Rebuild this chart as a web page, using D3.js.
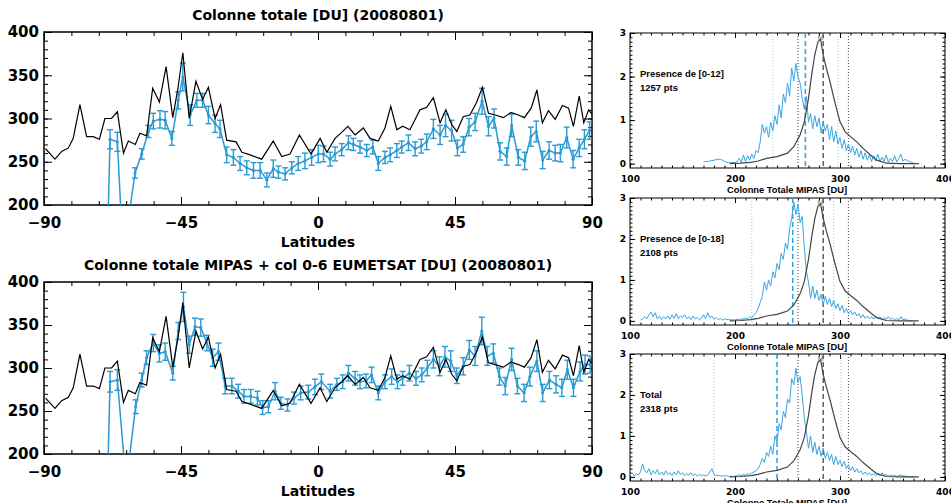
<!DOCTYPE html>
<html>
<head>
<meta charset="utf-8">
<script src="https://cdn.jsdelivr.net/npm/d3@7"></script>
<style>
  body { margin: 0; background: #fff; overflow: hidden; }
  svg { display: block; }
</style>
</head>
<body>
<div id="chart"></div>
<script>
// ---- latitude panels: MIPAS column (black) ----
var mipasLat = [-89.5,-86.4,-84.2,-82,-80.4,-78.2,-76,-73.8,-71.8,-70,-67.8,-65.9,-63.9,-62.3,-60,-58.5,-56.3,-54.3,-52.1,-49.9,
  -47.7,-46,-44.4,-42.3,-40.1,-37.9,-36,-33.8,-32,-30,-26.9,-25,-22.3,-18.5,-14.7,-11.9,-9.2,-6.1,-2.3,0.7,
  2.9,5.6,7.8,9.8,12.2,14.9,17.1,19.8,22,23.9,25.9,27.8,30.2,33.5,35.7,37.9,40.1,42,43.9,45.6,
  47.7,49.9,52,54,56,58.2,60.9,63.4,65.8,67.8,70,71.9,73.7,75.7,77.9,80.3,82.3,83.9,85.8,87.3,88.9,90];
var mipasCol = [265,253,262,266,277,316,279,279,276,300,300,308,260,274,270,283,280,335,319,360,
  301,335,376,300,343,322,336,300,316,275,273,261,258,253,274,256,259,281,259,277,
  261,277,284,291,281,289,277,274,289,314,287,291,287,310,313,324,295,310,293,285,
  302,304,318,336,306,304,301,307,304,301,312,333,295,309,299,315,312,291,326,295,310,305];

// ---- top panel: total column (blue) ----
var topLat = [-70.3,-68.3,-65.9,-64,-60.1,-57.9,-55.7,-54.1,-51.9,-50.2,-48,-45.9,-44.4,-42,-39.8,-37.9,-36,-33.8,-32.2,-30,
  -27.8,-25.6,-23.4,-21.2,-19,-16.8,-14.7,-13,-10.8,-8.6,-6.5,-4.3,-2.1,0.1,1.8,4,5.6,7.8,10,11.6,
  13.8,16,18,19.8,22,23.7,25.9,27.5,29.7,31.9,33.9,35.7,37.9,40.1,41.9,43.9,45.8,47.7,49.6,51.6,
  53.9,56,57.8,59.8,62,63.6,65.8,67.9,69.9,71.7,73.8,75.9,77.9,79.6,81.7,83.8,85.8,87.5,89.2];
var topCol = [0,276,273,140,237,259,285,297,299,298,277,321,348,304,321,321,304,294,288,258,
  255,248,243,240,240,229,242,238,236,243,248,251,255,259,259,253,259,264,272,270,
  267,263,267,248,255,258,263,267,272,265,268,273,288,281,292,286,266,270,290,296,
  320,291,300,262,256,292,255,251,279,285,252,263,260,260,278,253,266,276,286];
var topErr = [10,11,11,10,6,6,7,9,10,10,8,10,16,12,8,8,10,10,10,9,
  9,8,8,9,9,8,10,7,7,7,8,9,9,10,9,8,8,7,8,7,
  7,7,8,8,7,8,8,7,9,8,8,9,11,11,13,12,9,9,10,10,
  15,11,11,10,10,13,9,10,11,12,10,10,9,10,12,10,10,11,10];

// ---- bottom panel: MIPAS + col 0-6 EUMETSAT (blue) ----
var botLat = [-70.3,-68.3,-65.9,-63,-59.9,-57.9,-56.3,-54.1,-52.1,-50.2,-47.7,-45.9,-44.2,-42.3,-40.4,-38.5,-36.5,-34.6,-32.7,-30.5,
  -28.3,-26.2,-24.3,-22.1,-19.9,-18.2,-16.3,-14.1,-12.2,-10,-7.9,-5.7,-3.2,-1,1.1,4,6.2,8.1,10,12.2,
  13.8,15.8,17.6,19.8,22,24.2,26.1,27.8,30,32.2,34.1,35.9,37.9,39.9,41.7,43.6,45.6,47.7,49.7,51.6,
  53.8,55.6,57.6,59.6,61.5,63.6,65.5,67.7,69.6,71.9,73.8,76,78.2,80.1,81.9,83.9,86.1,87.7,89.4];
var botCol = [0,284,286,165,255,286,312,329,317,319,294,343,371,327,348,347,329,312,319,279,
  279,273,267,267,265,254,255,273,259,257,265,271,272,278,284,273,281,284,294,288,
  284,285,292,271,284,290,284,288,294,288,292,300,310,302,313,308,291,302,321,314,
  343,314,317,290,279,310,279,271,290,308,271,286,281,277,298,277,296,304,304];
var botErr = [10,12,12,10,8,8,8,10,10,10,8,10,17,10,10,10,9,10,10,9,
  9,8,8,8,8,8,7,10,7,7,7,8,8,9,9,8,7,8,9,8,
  8,8,9,8,8,9,8,8,9,8,8,9,10,11,12,12,9,10,11,11,
  16,11,11,10,10,13,9,10,11,12,10,10,10,10,11,10,11,11,10];

var latTicks = [-90, -45, 0, 45, 90];
var colTicks = [200, 250, 300, 350, 400];

// ---- histograms (right) ----
var histBins = [100,102,104,106,108,110,112,114,116,118,120,122,124,126,128,130,132,134,136,138,
  140,142,144,146,148,150,152,154,156,158,160,162,164,166,168,170,172,174,176,178,
  180,182,184,186,188,190,192,194,196,198,200,202,204,206,208,210,212,214,216,218,
  220,222,224,226,228,230,232,234,236,238,240,242,244,246,248,250,252,254,256,258,
  260,262,264,266,268,270,272,274,276,278,280,282,284,286,288,290,292,294,296,298,
  300,302,304,306,308,310,312,314,316,318,320,322,324,326,328,330,332,334,336,338,
  340,342,344,346,348,350,352,354,356,358,360,362,364,366,368,370];

var hist012 = [null,null,null,null,null,null,null,null,null,null,
  null,null,null,null,null,null,null,null,null,null,
  null,null,null,null,null,null,null,null,null,null,
  null,null,null,null,null,0.04,0.05,0.05,0.06,0.07,
  0.08,0.09,0.1,0.1,0.08,0.05,0.03,0.02,0.02,0.03,
  0.02,0.05,0.12,0.03,0.2,0.05,0.18,0.08,0.22,0.12,
  0.3,0.25,0.5,0.9,0.7,0.85,0.6,0.95,0.75,1.1,
  0.9,1.35,1.05,1.6,1.4,1.85,1.55,2.2,1.9,2.3,
  2.0,1.85,1.5,1.25,1.55,0.95,1.15,0.8,1.1,0.85,
  1.05,0.7,0.95,0.75,0.9,0.55,0.85,0.5,0.75,0.45,
  0.6,0.35,0.55,0.3,0.45,0.25,0.4,0.2,0.35,0.15,
  0.3,0.1,0.25,0.08,0.2,0.05,0.18,0.06,0.22,0.05,
  0.15,0.05,0.2,0.04,0.12,0.05,0.18,0.04,0.12,0.22,
  0.06,0.1,0.07,0.05,0.03,0.01];
var hist018 = [null,null,null,null,null,0.02,0.05,0.1,0.05,0.15,
  0.22,0.1,0.2,0.05,0.12,0.03,0.1,0.05,0.12,0.04,
  0.15,0.06,0.18,0.05,0.12,0.08,0.15,0.05,0.1,0.03,
  0.12,0.05,0.08,0.03,0.06,0.15,0.05,0.2,0.08,0.12,
  0.04,0.08,0.03,0.06,0.02,0.05,0.03,0.04,0.02,0.03,
  0.02,0.04,0.03,0.05,0.04,0.07,0.05,0.1,0.08,0.15,
  0.2,0.3,0.45,0.6,0.95,0.75,1.0,0.85,1.2,1.05,
  1.4,1.25,1.65,1.5,1.9,1.75,2.25,2.5,2.9,2.6,
  2.85,2.4,2.55,1.8,1.2,0.95,0.55,0.85,0.55,0.75,
  0.5,0.65,0.4,0.6,0.4,0.55,0.35,0.5,0.3,0.42,
  0.25,0.38,0.2,0.3,0.18,0.25,0.15,0.22,0.12,0.18,
  0.08,0.15,0.06,0.12,0.05,0.1,0.04,0.12,0.05,0.1,
  0.03,0.08,0.04,0.1,0.03,0.07,0.02,0.06,0.02,0.1,
  0.03,0.05,0.02,0.01,0,0];
var histTotal = [0.05,0.1,0.02,0.08,0.05,0.12,0.32,0.15,0.1,0.2,
  0.05,0.15,0.08,0.18,0.05,0.12,0.04,0.15,0.06,0.1,
  0.03,0.12,0.05,0.15,0.06,0.1,0.03,0.08,0.04,0.1,
  0.03,0.07,0.02,0.06,0.03,0.05,0.02,0.05,0.12,0.2,
  0.06,0.03,0.04,0.02,0.03,0.02,0.03,0.01,0.02,0.01,
  0.02,0.03,0.05,0.03,0.06,0.04,0.08,0.06,0.1,0.12,
  0.15,0.2,0.3,0.45,0.35,0.6,0.5,0.75,0.55,1.0,
  0.85,1.3,1.15,1.6,1.45,1.9,1.8,2.4,2.25,2.65,
  2.3,2.45,2.0,1.45,1.1,0.7,1.0,0.6,0.85,0.55,
  0.75,0.5,0.7,0.45,0.6,0.4,0.55,0.3,0.5,0.3,
  0.4,0.25,0.38,0.2,0.3,0.15,0.25,0.12,0.2,0.1,
  0.15,0.06,0.12,0.05,0.1,0.04,0.08,0.03,0.08,0.03,
  0.1,0.03,0.06,0.02,0.05,0.02,0.04,0.01,0.03,0.05,
  0.02,0.02,0.01,0.01,0,0];

// MIPAS reference distribution (same in all three)
var mipasHistX = [195,205,215,222,230,240,250,256,262,266,270,273,276,279,281.5,284,287,290.5,295,300,305,310,316,322,329,335,344,357,370,375];
var mipasHistY = [0,0.01,0.03,0.06,0.12,0.16,0.24,0.39,0.66,0.96,1.5,2.04,2.5,2.8,2.86,2.5,2.19,1.88,1.42,0.96,0.73,0.62,0.5,0.35,0.2,0.08,0.01,0,0,0];

var histLabels = ['Presence de [0-12]', 'Presence de [0-18]', 'Total'];
var histCounts = ['1257 pts', '2108 pts', '2318 pts'];
var blueMarks = [[236, 267, 298], [216, 255, 294], [180, 240, 301]];
var blackMarks = [260, 284, 308];
var histXTicks = [100, 200, 300, 400];
var histYTicks = [0, 1, 2, 3];

var blue = '#2a9ad4';
var bigFont = 'DejaVu Sans, sans-serif';
var smallFont = 'Liberation Sans, Arial, sans-serif';

var svg = d3.select('#chart')
  .append('svg')
  .attr('width', 951)
  .attr('height', 503);

function axis(g, ax, transform, font, size) {
  var a = g.append('g').attr('transform', transform).call(ax);
  a.select('.domain').remove();
  a.selectAll('line').attr('stroke', '#000');
  a.attr('font-family', font).attr('font-size', size).attr('font-weight', 'bold');
  a.selectAll('text').attr('fill', '#000');
  return a;
}

// latitude panel
function drawLat(top, bottom, title, lats, vals, errs, id) {
  var x = d3.scaleLinear().domain([-90, 90]).range([44, 592]);
  var y = d3.scaleLinear().domain([200, 400]).range([bottom, top]);
  var g = svg.append('g');

  g.append('clipPath').attr('id', id)
    .append('rect').attr('x', 44).attr('y', top).attr('width', 548).attr('height', bottom - top);

  var minorX = d3.range(-90, 91, 9), minorY = d3.range(200, 401, 10);
  axis(g, d3.axisBottom(x).tickValues(minorX).tickSize(-4).tickFormat(''), 'translate(0,' + bottom + ')', bigFont, 15);
  axis(g, d3.axisTop(x).tickValues(minorX).tickSize(-4).tickFormat(''), 'translate(0,' + top + ')', bigFont, 15);
  axis(g, d3.axisLeft(y).tickValues(minorY).tickSize(-4).tickFormat(''), 'translate(44,0)', bigFont, 15);
  axis(g, d3.axisRight(y).tickValues(minorY).tickSize(-4).tickFormat(''), 'translate(592,0)', bigFont, 15);
  axis(g, d3.axisBottom(x).tickValues(latTicks).tickSize(-8).tickPadding(12), 'translate(0,' + bottom + ')', bigFont, 15);
  axis(g, d3.axisTop(x).tickValues(latTicks).tickSize(-8).tickFormat(''), 'translate(0,' + top + ')', bigFont, 15);
  axis(g, d3.axisLeft(y).tickValues(colTicks).tickSize(-8).tickPadding(5), 'translate(44,0)', bigFont, 15);
  axis(g, d3.axisRight(y).tickValues(colTicks).tickSize(-8).tickFormat(''), 'translate(592,0)', bigFont, 15);

  g.append('rect')
    .attr('x', 44).attr('y', top).attr('width', 548).attr('height', bottom - top)
    .attr('fill', 'none').attr('stroke', '#000').attr('stroke-width', 1.5);

  g.append('text')
    .attr('x', 318).attr('y', top - 12)
    .attr('text-anchor', 'middle')
    .attr('font-family', bigFont).attr('font-size', 14).attr('font-weight', 'bold')
    .text(title);
  g.append('text')
    .attr('x', 318).attr('y', bottom + 42)
    .attr('text-anchor', 'middle')
    .attr('font-family', bigFont).attr('font-size', 14).attr('font-weight', 'bold')
    .text('Latitudes');

  var plot = g.append('g').attr('clip-path', 'url(#' + id + ')');

  var line = d3.line()
    .x(function(d) { return x(d[0]); })
    .y(function(d) { return y(d[1]); });

  var blk = d3.zip(mipasLat, mipasCol);
  var pts = d3.zip(lats, vals, errs);

  plot.append('path')
    .datum(pts)
    .attr('fill', 'none')
    .attr('stroke', blue)
    .attr('stroke-width', 1.5)
    .attr('d', line);

  var bars = plot.selectAll('.err').data(pts).enter().append('g').attr('class', 'err');
  bars.append('line')
    .attr('x1', function(d) { return x(d[0]); }).attr('x2', function(d) { return x(d[0]); })
    .attr('y1', function(d) { return y(d[1] - d[2]); }).attr('y2', function(d) { return y(d[1] + d[2]); })
    .attr('stroke', blue).attr('stroke-width', 1.4);
  [-1, 1].forEach(function(s) {
    bars.append('line')
      .attr('x1', function(d) { return x(d[0]) - 3; }).attr('x2', function(d) { return x(d[0]) + 3; })
      .attr('y1', function(d) { return y(d[1] + s * d[2]); }).attr('y2', function(d) { return y(d[1] + s * d[2]); })
      .attr('stroke', blue).attr('stroke-width', 1.4);
  });
  bars.append('circle')
    .attr('cx', function(d) { return x(d[0]); }).attr('cy', function(d) { return y(d[1]); })
    .attr('r', 1.6).attr('fill', blue);

  plot.append('path')
    .datum(blk)
    .attr('fill', 'none')
    .attr('stroke', '#000')
    .attr('stroke-width', 1.2)
    .attr('d', line);
}

drawLat(32, 205, 'Colonne totale [DU] (20080801)', topLat, topCol, topErr, 'clipTop');
drawLat(282, 454, 'Colonne totale MIPAS + col 0-6 EUMETSAT [DU] (20080801)', botLat, botCol, botErr, 'clipBot');

// histogram panels
function drawHist(top, bottom, k) {
  var x = d3.scaleLinear().domain([100, 400]).range([630, 945]);
  var y = d3.scaleLinear().domain([-0.1, 3]).range([bottom, top]);
  var g = svg.append('g');
  var id = 'clipH' + k;
  g.append('clipPath').attr('id', id)
    .append('rect').attr('x', 630).attr('y', top).attr('width', 315).attr('height', bottom - top);

  var minorX = d3.range(100, 401, 10), minorY = d3.range(0, 3.01, 0.1);
  axis(g, d3.axisBottom(x).tickValues(minorX).tickSize(-2.5).tickFormat(''), 'translate(0,' + bottom + ')', smallFont, 9);
  axis(g, d3.axisTop(x).tickValues(minorX).tickSize(-2.5).tickFormat(''), 'translate(0,' + top + ')', smallFont, 9);
  axis(g, d3.axisLeft(y).tickValues(minorY).tickSize(-2.5).tickFormat(''), 'translate(630,0)', smallFont, 9);
  axis(g, d3.axisRight(y).tickValues(minorY).tickSize(-2.5).tickFormat(''), 'translate(945,0)', smallFont, 9);
  axis(g, d3.axisBottom(x).tickValues(histXTicks).tickSize(-5).tickPadding(8).tickFormat(d3.format('d')), 'translate(0,' + bottom + ')', bigFont, 9);
  axis(g, d3.axisTop(x).tickValues(histXTicks).tickSize(-5).tickFormat(''), 'translate(0,' + top + ')', bigFont, 9);
  axis(g, d3.axisLeft(y).tickValues(histYTicks).tickSize(-5).tickPadding(4).tickFormat(d3.format('d')), 'translate(630,0)', bigFont, 9);
  axis(g, d3.axisRight(y).tickValues(histYTicks).tickSize(-5).tickFormat(''), 'translate(945,0)', bigFont, 9);

  g.append('rect')
    .attr('x', 630).attr('y', top).attr('width', 315).attr('height', bottom - top)
    .attr('fill', 'none').attr('stroke', '#000').attr('stroke-width', 1);

  g.append('text')
    .attr('x', 787).attr('y', bottom + 25)
    .attr('text-anchor', 'middle')
    .attr('font-family', smallFont).attr('font-size', 9.3).attr('font-weight', 'bold')
    .text('Colonne Totale MIPAS [DU]');

  g.append('text').attr('x', 640).attr('y', top + 44)
    .attr('font-family', smallFont).attr('font-size', 9.5).attr('font-weight', 'bold')
    .text(histLabels[k]);
  g.append('text').attr('x', 640).attr('y', top + 58)
    .attr('font-family', smallFont).attr('font-size', 9.5).attr('font-weight', 'bold')
    .text(histCounts[k]);

  var plot = g.append('g').attr('clip-path', 'url(#' + id + ')');

  // reference lines
  blueMarks[k].forEach(function(v, i) {
    plot.append('line')
      .attr('x1', x(v)).attr('x2', x(v)).attr('y1', top).attr('y2', bottom)
      .attr('stroke', i === 1 ? '#3aa6df' : '#8fcdee')
      .attr('stroke-width', i === 1 ? 1.6 : 1)
      .attr('stroke-dasharray', i === 1 ? '5,3' : '1,2');
  });
  blackMarks.forEach(function(v, i) {
    plot.append('line')
      .attr('x1', x(v)).attr('x2', x(v)).attr('y1', top).attr('y2', bottom)
      .attr('stroke', i === 1 ? '#555' : '#444')
      .attr('stroke-width', i === 1 ? 1.4 : 1)
      .attr('stroke-dasharray', i === 1 ? '5,3' : '1,2');
  });

  var series = [hist012, hist018, histTotal][k];
  var hLine = d3.line()
    .defined(function(d) { return d[1] != null; })
    .x(function(d) { return x(d[0]); })
    .y(function(d) { return y(d[1]); });

  plot.append('path')
    .datum(d3.zip(histBins, series))
    .attr('fill', 'none')
    .attr('stroke', '#3aa6df')
    .attr('stroke-width', 1)
    .attr('d', hLine);

  plot.append('path')
    .datum(d3.zip(mipasHistX, mipasHistY))
    .attr('fill', 'none')
    .attr('stroke', '#444')
    .attr('stroke-width', 1.2)
    .attr('d', hLine);

  var iMax = d3.maxIndex(mipasHistY);
  g.append('text')
    .attr('x', x(mipasHistX[iMax])).attr('y', y(mipasHistY[iMax]) + 1)
    .attr('text-anchor', 'middle')
    .attr('font-family', smallFont).attr('font-size', 7).attr('fill', '#666')
    .text('M');
}

drawHist(33, 168, 0);
drawHist(198, 325, 1);
drawHist(354, 481, 2);
</script>
</body>
</html>
